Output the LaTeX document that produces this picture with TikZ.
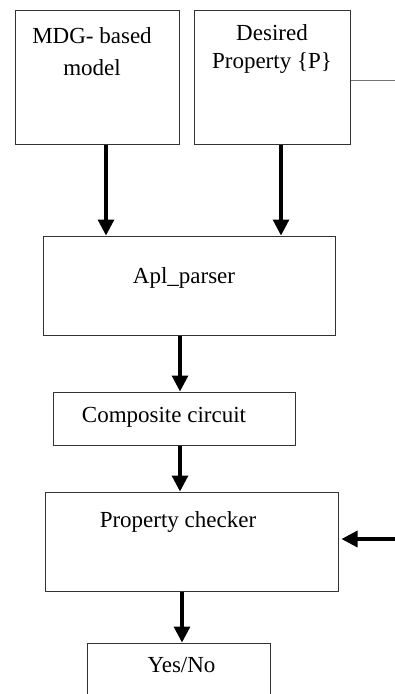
\documentclass[tikz,border=0pt]{standalone}
\usepackage{fontspec}
\setmainfont{Liberation Serif}
\usetikzlibrary{arrows.meta}
\tikzset{
  box/.style={draw=black!80, line width=1pt, inner sep=0pt},
  lbl/.style={font=\fontsize{23}{31}\selectfont, align=center, anchor=base, inner sep=0pt},
  flow/.style={line width=3.2pt, -{Triangle[length=16pt,width=16pt]}},
  wire/.style={draw=black!55, line width=1pt},
}
\begin{document}
\begin{tikzpicture}[x=1pt,y=-1pt]
  \useasboundingbox (0,0) rectangle (395,694);
  \node[box, minimum width=164pt, minimum height=134pt] (mdg) at (97,77) {};
  \node[box, minimum width=156pt, minimum height=134pt] (prop) at (272,77) {};
  \node[box, minimum width=292pt, minimum height=99pt] (apl) at (189,285.5) {};
  \node[box, minimum width=242pt, minimum height=53pt] (comp) at (174,418.5) {};
  \node[box, minimum width=293pt, minimum height=99pt] (chk) at (191.5,541.5) {};
  \node[box, minimum width=183pt, minimum height=70pt] (yn) at (178.5,678) {};
  \node[lbl, font=\fontsize{23}{32}\selectfont] (mdgT) at (92,75) {MDG- based\\model};
  \node[lbl, font=\fontsize{23}{28}\selectfont] (propT) at (272,68) {Desired\\Property \{P\}};
  \node[lbl] (aplT) at (184,283) {Apl\_parser};
  \node[lbl] (compT) at (164,422) {Composite circuit};
  \node[lbl] (chkT) at (178,527) {Property checker};
  \node[lbl] (ynT) at (181.5,672) {Yes/No};
  \coordinate (pout) at (398,80);
  \coordinate (fb) at (398,539);
  \draw[wire] (pout -| prop.east) -- (pout);
  \draw[flow] ([xshift=9pt]mdg.south) -- ([xshift=9pt]mdg.south |- apl.north);
  \draw[flow] ([xshift=9pt]prop.south) -- ([xshift=9pt]prop.south |- apl.north);
  \draw[flow] ([xshift=-9pt]apl.south) -- ([xshift=-9pt]apl.south |- comp.north);
  \draw[flow] ([xshift=6pt]comp.south) -- ([xshift=6pt]comp.south |- chk.north);
  \draw[flow] ([xshift=-9.5pt]chk.south) -- ([xshift=-9.5pt]chk.south |- yn.north);
  \draw[flow, shorten >=3pt] (fb) -- (fb -| chk.east);
\end{tikzpicture}
\end{document}
